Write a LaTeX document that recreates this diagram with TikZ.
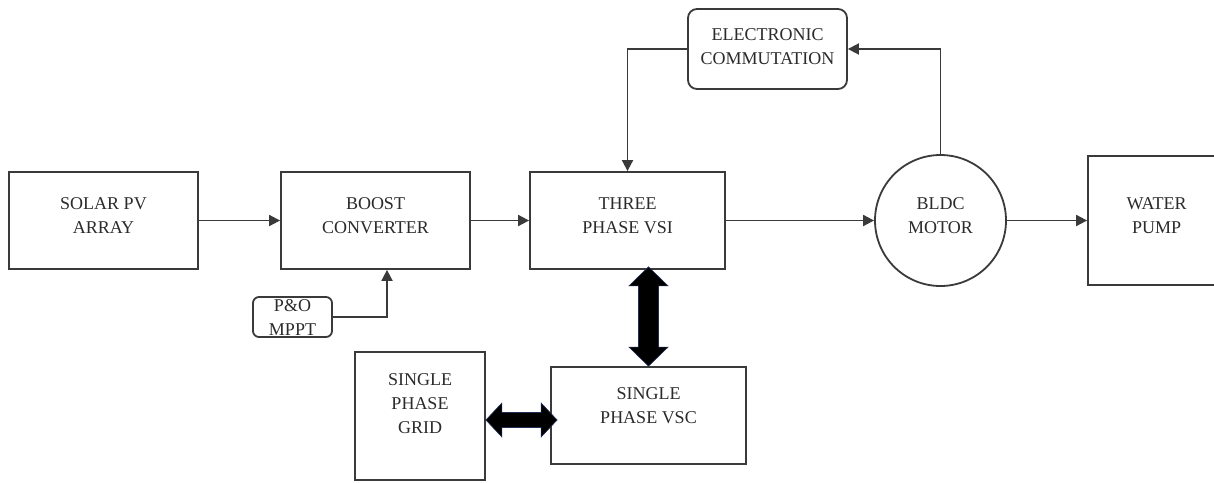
\documentclass[tikz,border=0pt]{standalone}
\usepackage{fontspec}
\setmainfont{Liberation Serif}
\usetikzlibrary{arrows.meta,calc}
\newcommand\dtxt{\fontsize{18}{24}\selectfont}
\definecolor{lc}{HTML}{3A3A3A}
\definecolor{tc}{HTML}{2B2B2B}
\definecolor{navyedge}{HTML}{1F2F55}
\begin{document}
\begin{tikzpicture}[x=1pt,y=-1pt,
  blk/.style={draw=lc, line width=1.8pt, rectangle, inner sep=0pt},
  rblk/.style={blk, rounded corners=7pt},
  conn/.style={draw=lc, line width=1.8pt, -{Triangle[length=11pt,width=11pt]}},
  big/.style={fill=black, draw=navyedge, line width=0.6pt, line join=miter}
]
\useasboundingbox (0,0) rectangle (1214,482);
\clip (0,0) rectangle (1214,482);
\fill[white] (0,0) rectangle (1214,482);

% blocks
\node[blk, minimum width=189pt, minimum height=97pt,
  label={[align=center, font=\dtxt, text=tc, yshift=5pt]center:SOLAR PV\\ARRAY}] (solar) at (103.5,220.5) {};
\node[blk, minimum width=189pt, minimum height=97pt,
  label={[align=center, font=\dtxt, text=tc, yshift=5pt]center:BOOST\\CONVERTER}] (boost) at (375.5,220.5) {};
\node[blk, minimum width=195pt, minimum height=97pt,
  label={[align=center, font=\dtxt, text=tc, yshift=5pt]center:THREE\\PHASE VSI}] (vsi) at (627.5,220.5) {};
\node[rblk, rounded corners=9pt, minimum width=159pt, minimum height=80pt,
  label={[align=center, font=\dtxt, text=tc, yshift=2pt]center:ELECTRONIC\\COMMUTATION}] (ec) at (767.5,49) {};
\node[blk, circle, minimum size=131pt,
  label={[align=center, font=\dtxt, text=tc, yshift=5pt]center:BLDC\\MOTOR}] (motor) at (940.5,220.5) {};
\node[blk, minimum width=137pt, minimum height=129pt,
  label={[align=center, font=\dtxt, text=tc, yshift=5pt]center:WATER\\PUMP}] (pump) at (1156.5,220.5) {};
\node[rblk, rounded corners=6pt, minimum width=79pt, minimum height=40pt,
  label={[align=center, font=\dtxt, text=tc, yshift=-1pt]center:P\&O\\MPPT}] (pom) at (292.5,317) {};
\node[blk, minimum width=130pt, minimum height=128pt,
  label={[align=center, font=\dtxt, text=tc, yshift=12pt]center:SINGLE\\PHASE\\GRID}] (grid) at (420,416) {};
\node[blk, minimum width=195pt, minimum height=97pt,
  label={[align=center, font=\dtxt, text=tc, yshift=9.5pt]center:SINGLE\\PHASE VSC}] (vsc) at (648.5,415.5) {};

% connectors
\draw[conn] (solar.east) -- (boost.west);
\draw[conn] (boost.east) -- (vsi.west);
\draw[conn] (vsi.east) -- (motor.west);
\draw[conn] (motor.east) -- (pump.west);
\draw[conn] (motor.north) |- (ec.east);
\draw[conn] (ec.west) -| (vsi.north);
\draw[conn] (pom.east) -| ([xshift=11.5pt]boost.south);

% thick bidirectional arrows
\coordinate[yshift=3pt] (vt) at (vsc.north |- vsi.south);
\coordinate (vb) at (vsc.north);
\path[big] (vt) -- ++(19.5,19) -- ++(-9.5,0) -- ($(vb)+(10,-19)$) -- ++(9.5,0)
  -- (vb) -- ++(-19.5,-19) -- ++(9.5,0) -- ($(vt)+(-10,19)$) -- ++(-9.5,0) -- cycle;

\coordinate[yshift=-4pt] (hl) at (grid.east);
\coordinate[xshift=7pt,yshift=-4.5pt] (hr) at (vsc.west);
\path[big] (hl) -- ++(16,-17) -- ++(0,9.5) -- ($(hr)+(-16,-7.5)$) -- ++(0,-9.5)
  -- (hr) -- ++(-16,17) -- ++(0,-9.5) -- ($(hl)+(16,7.5)$) -- ++(0,9.5) -- cycle;
\end{tikzpicture}
\end{document}
